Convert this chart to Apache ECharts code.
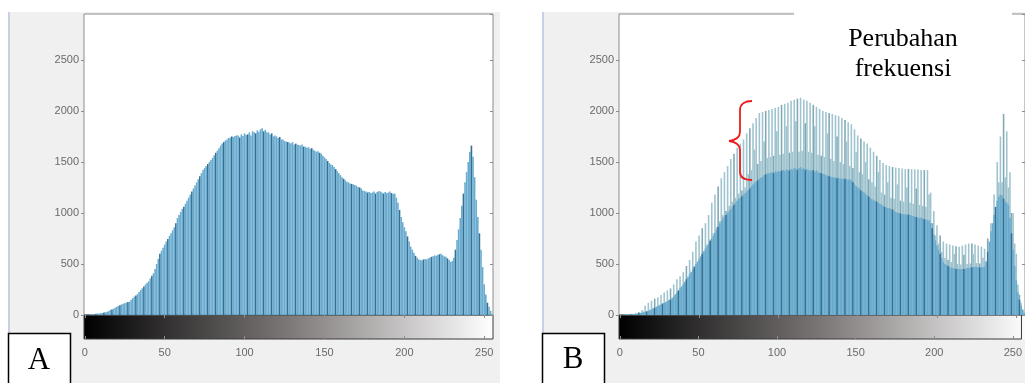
<!DOCTYPE html>
<html>
<head>
<meta charset="utf-8">
<script src="https://cdn.jsdelivr.net/npm/echarts@6/dist/echarts.min.js"></script>
<style>
html,body{margin:0;padding:0;background:#fff;}
#c{width:1025px;height:383px;}
</style>
</head>
<body>
<div id="c"></div>
<script>
// Histogram A (original image), counts per gray level 0..255
const histA = [
3,4,5,6,8,9,10,12,14,15,18,20,24,28,32,38,
50,55,62,70,80,88,96,104,110,116,122,128,130,150,165,180,
190,205,225,245,262,280,300,315,330,360,385,410,450,500,550,600,
630,660,690,720,745,775,800,830,860,900,950,980,1010,1040,1060,1090,
1120,1150,1180,1210,1240,1270,1300,1330,1360,1390,1420,1440,1460,1480,1500,1520,
1540,1565,1590,1610,1635,1660,1680,1695,1710,1720,1735,1740,1750,1745,1755,1760,
1760,1740,1770,1755,1780,1765,1770,1790,1760,1800,1790,1780,1810,1795,1820,1830,
1800,1815,1790,1790,1770,1780,1750,1760,1750,1735,1745,1720,1720,1705,1700,1695,
1690,1680,1695,1670,1680,1670,1665,1660,1670,1650,1650,1640,1645,1630,1635,1620,
1610,1600,1605,1590,1580,1560,1545,1530,1510,1490,1475,1470,1450,1430,1410,1390,
1370,1350,1335,1320,1305,1300,1290,1285,1280,1275,1265,1255,1250,1240,1220,1215,
1210,1200,1205,1195,1200,1210,1190,1205,1215,1210,1200,1190,1205,1195,1200,1210,
1195,1185,1190,1150,1100,1030,960,910,860,820,770,720,670,640,610,580,
560,545,540,535,545,550,545,555,560,570,575,585,580,590,595,600,
585,575,570,555,540,520,530,560,640,735,840,950,1070,1190,1300,1400,
1500,1600,1660,1550,1350,1130,960,800,640,470,300,200,120,80,40,10
];
// Histogram B, lower (original) layer
const histBLow = [
2,3,3,4,5,6,7,8,9,10,12,14,16,18,22,26,
30,34,40,46,52,60,70,78,86,94,102,110,118,126,135,145,
150,165,180,200,220,240,260,280,300,325,350,375,400,425,450,475,
500,525,550,575,600,625,650,675,700,725,750,775,805,835,865,895,
920,945,965,980,1000,1020,1040,1060,1080,1100,1120,1140,1150,1165,1180,1195,
1210,1225,1240,1260,1280,1295,1310,1320,1335,1345,1355,1370,1380,1385,1390,1395,
1400,1390,1405,1400,1410,1405,1415,1420,1410,1425,1420,1415,1430,1425,1440,1435,
1420,1440,1450,1430,1440,1420,1430,1415,1420,1410,1420,1405,1420,1400,1395,1390,
1385,1380,1370,1365,1360,1355,1350,1350,1345,1340,1345,1335,1340,1330,1335,1330,
1325,1330,1320,1300,1280,1265,1250,1240,1220,1210,1200,1185,1170,1160,1145,1135,
1125,1120,1110,1100,1090,1080,1070,1060,1050,1045,1050,1040,1035,1020,1010,1005,
1000,995,990,985,990,980,985,980,975,970,965,960,955,950,955,945,
940,935,930,925,900,850,790,730,680,640,600,560,520,500,490,480,
470,465,460,455,450,455,450,448,450,452,455,460,462,465,468,470,
472,470,468,465,468,470,472,520,620,720,820,900,980,1060,1120,1160,
1180,1170,1140,1110,1100,1080,950,800,640,480,340,220,150,90,50,20
];
// Histogram B, upper (changed) layer
const histBHigh = [
3,2,4,3,6,5,8,7,12,10,18,14,30,22,50,36,
90,40,120,55,140,70,160,85,175,100,195,115,220,130,240,150,
260,170,300,200,350,240,380,270,420,310,480,360,540,410,620,460,
720,520,780,570,850,620,900,690,980,740,1100,800,1180,860,1260,920,
1340,980,1400,1020,1460,1070,1530,1110,1580,1150,1640,1190,1680,1220,1720,1250,
1780,1380,1830,1420,1880,1620,1930,1480,1980,1510,1990,1700,2000,1540,2010,1550,
2020,1560,2030,1800,2040,1570,2060,1580,2070,1850,2080,1590,2100,1600,2110,1900,
2120,1600,2130,1610,2110,1880,2100,1600,2080,1590,2060,1850,2040,1570,2020,1560,
2000,1550,1990,1780,1980,1530,1970,1510,1960,1750,1950,1500,1930,1480,1910,1700,
1890,1460,1870,1440,1820,1600,1760,1400,1730,1380,1700,1500,1680,1330,1640,1300,
1600,1260,1560,1400,1520,1200,1490,1180,1470,1300,1460,1150,1450,1140,1445,1280,
1440,1120,1435,1110,1430,1250,1432,1100,1430,1090,1428,1240,1425,1080,1420,1070,
1420,1060,1420,1180,1200,900,1020,780,880,700,780,620,720,560,700,540,
690,520,680,600,675,500,670,495,680,590,690,500,700,505,700,600,
690,510,680,505,670,560,650,530,750,640,900,780,1180,980,1500,1300,
1750,1300,1970,1350,1800,1250,1400,1000,1000,700,600,300,200,120,60,40
];
const grayLevels = histA.map((_, i) => String(i));
const xTickLabels = ['0','50','100','150','200','250'];
const yTicks = [0, 500, 1000, 1500, 2000, 2500];
const panelLabels = ['A', 'B'];
const noteLines = ['Perubahan', 'frekuensi'];

const chart = echarts.init(document.getElementById('c'), null, {renderer: 'canvas'});

const PLOT_W = 409, PLOT_TOP = 14, PLOT_H = 301, CB_H = 24;
const lefts = [84, 619];
const YMAX = 2950;

const grids = [], xAxes = [], yAxes = [], series = [];
const labelStyle = {fontFamily: 'Liberation Sans', fontSize: 11, color: '#6a6a6a'};

lefts.forEach((L, p) => {
  const gMain = grids.length;
  grids.push({left: L, top: PLOT_TOP, width: PLOT_W, height: PLOT_H, show: true,
    backgroundColor: '#ffffff', borderColor: '#8c8c8c', borderWidth: 1, containLabel: false});
  grids.push({left: L, top: PLOT_TOP + PLOT_H, width: PLOT_W, height: CB_H, show: true,
    backgroundColor: 'rgba(0,0,0,0)', borderColor: '#3a3a3a', borderWidth: 1, containLabel: false});
  const xb = xAxes.length;
  xAxes.push({type: 'category', gridIndex: gMain, data: grayLevels, boundaryGap: true,
    axisLine: {show: false}, axisTick: {show: false}, axisLabel: {show: false}, splitLine: {show: false}});
  xAxes.push({type: 'category', gridIndex: gMain, position: 'top', data: grayLevels, boundaryGap: true,
    axisLine: {show: false},
    axisTick: {show: true, inside: true, length: 3, alignWithLabel: true,
      interval: (i) => xTickLabels.includes(grayLevels[i]), lineStyle: {color: '#8c8c8c'}},
    axisLabel: {show: false}, splitLine: {show: false}});
  xAxes.push({type: 'category', gridIndex: gMain + 1, data: grayLevels, boundaryGap: true,
    axisLine: {show: false},
    axisTick: {show: true, inside: true, length: 3, alignWithLabel: true,
      interval: (i) => xTickLabels.includes(grayLevels[i]), lineStyle: {color: '#8c8c8c'}},
    axisLabel: Object.assign({show: true, margin: 8,
      interval: (i) => xTickLabels.includes(grayLevels[i])}, labelStyle),
    splitLine: {show: false}});
  const yb = yAxes.length;
  yAxes.push({type: 'value', gridIndex: gMain, min: 0, max: YMAX, interval: 500,
    axisLine: {show: false}, axisTick: {show: true, length: 3, lineStyle: {color: '#8c8c8c'}},
    axisLabel: Object.assign({show: true, margin: 5, showMaxLabel: false,
      formatter: (v) => yTicks.includes(v) ? String(v) : ''}, labelStyle),
    splitLine: {show: false}});
  yAxes.push({type: 'value', gridIndex: gMain, position: 'right', min: 0, max: YMAX, interval: 500,
    axisLine: {show: false}, axisTick: {show: true, inside: true, length: 3, lineStyle: {color: '#8c8c8c'}},
    axisLabel: {show: false}, splitLine: {show: false}});
  yAxes.push({type: 'value', gridIndex: gMain + 1, min: 0, max: 1, show: false});

  const stripe = (base, dark) => (params) => (params.dataIndex % 5 === 2 ? dark : base);
  if (p === 0) {
    series.push({type: 'bar', xAxisIndex: xb, yAxisIndex: yb, data: histA,
      barCategoryGap: '0%', barGap: '-100%', z: 3, silent: true,
      itemStyle: {color: stripe('#69acd0', '#356f92')}});
  } else {
    series.push({type: 'bar', xAxisIndex: xb, yAxisIndex: yb, data: histBHigh,
      barCategoryGap: '0%', barGap: '-100%', z: 2, silent: true,
      itemStyle: {color: stripe('#a0c4cf', '#80a9b6')}});
    series.push({type: 'bar', xAxisIndex: xb, yAxisIndex: yb, data: histBLow,
      barCategoryGap: '0%', barGap: '-100%', z: 3, silent: true,
      itemStyle: {color: stripe('#68abcf', '#356f92')}});
  }
});

const cbGradient = new echarts.graphic.LinearGradient(0, 0, 1, 0, [
  {offset: 0, color: '#000000'}, {offset: 0.5, color: '#7d7878'}, {offset: 1, color: '#ffffff'}]);

const txt = (x, y, text, size, vAlign) => ({type: 'text', z: 101, x: x, y: y,
  style: {text: text, fill: '#000', fontSize: size, fontFamily: 'Liberation Serif',
    align: 'center', verticalAlign: vAlign}});
const bez = (x1, y1, c1x, c1y, c2x, c2y, x2, y2) => ({type: 'bezierCurve', z: 102,
  shape: {x1: x1, y1: y1, cpx1: c1x, cpy1: c1y, cpx2: c2x, cpy2: c2y, x2: x2, y2: y2},
  style: {fill: null, stroke: '#ee1c1c', lineWidth: 1.8}});
const seg = (x1, y1, x2, y2) => ({type: 'line', z: 102, shape: {x1: x1, y1: y1, x2: x2, y2: y2},
  style: {stroke: '#ee1c1c', lineWidth: 1.8}});

const graphic = [
  {type: 'rect', z: -10, shape: {x: 0, y: 0, width: 1025, height: 383}, style: {fill: '#ffffff'}},
  {type: 'rect', z: -9, shape: {x: 8, y: 12, width: 492, height: 371}, style: {fill: '#f0f0f0'}},
  {type: 'rect', z: -8, shape: {x: 8, y: 12, width: 2, height: 371}, style: {fill: '#c6d1e6'}},
  {type: 'rect', z: -9, shape: {x: 542, y: 12, width: 483, height: 371}, style: {fill: '#f0f0f0'}},
  {type: 'rect', z: -8, shape: {x: 542, y: 12, width: 2, height: 371}, style: {fill: '#c6d1e6'}},
  // colorbars
  {type: 'rect', z: -5, shape: {x: 84, y: 315, width: 409, height: 24}, style: {fill: cbGradient}},
  {type: 'rect', z: -5, shape: {x: 619, y: 315, width: 409, height: 24}, style: {fill: cbGradient}},
  // panel label boxes
  {type: 'rect', z: 100, shape: {x: 8.5, y: 333.5, width: 62, height: 52},
    style: {fill: '#ffffff', stroke: '#000000', lineWidth: 1.5}},
  txt(39, 376, panelLabels[0], 31, 'bottom'),
  {type: 'rect', z: 100, shape: {x: 542.5, y: 333.5, width: 62, height: 52},
    style: {fill: '#ffffff', stroke: '#000000', lineWidth: 1.5}},
  txt(573, 375, panelLabels[1], 31, 'bottom'),
  // annotation box & text
  {type: 'rect', z: 100, shape: {x: 794, y: 0, width: 218, height: 86}, style: {fill: '#ffffff'}},
  txt(903, 52, noteLines[0], 26, 'bottom'),
  txt(903, 82, noteLines[1], 26, 'bottom'),
  // red brace
  bez(752, 101, 745, 101, 740, 104, 740, 110),
  seg(740, 110, 740, 132),
  bez(740, 132, 740, 137, 736, 140, 729, 141),
  bez(729, 141, 736, 142, 740, 145, 740, 150),
  seg(740, 150, 740, 172),
  bez(740, 172, 740, 178, 745, 180, 752, 180)
];

chart.setOption({
  animation: false,
  backgroundColor: 'transparent',
  grid: grids,
  xAxis: xAxes,
  yAxis: yAxes,
  series: series,
  graphic: graphic
});
</script>
</body>
</html>
